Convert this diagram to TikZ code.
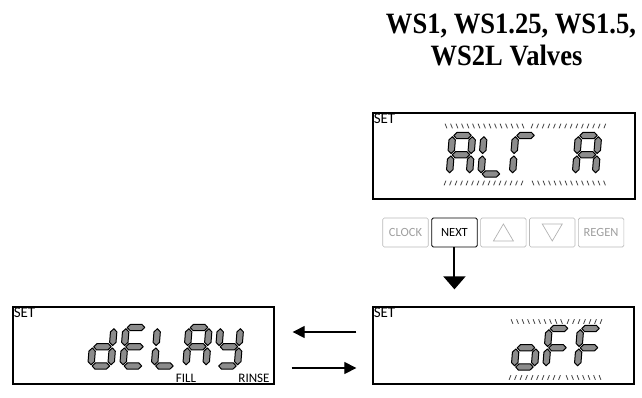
\documentclass[tikz,border=0pt]{standalone}
\usepackage{fontspec}
\setmainfont{Liberation Serif}
\newfontfamily\titlefont[FakeStretch=0.9]{Liberation Serif}
\newfontfamily\lcdfont{Carlito}
\usetikzlibrary{arrows.meta,positioning}

% seven segment digit, local coords (y down)
\def\dw{20}\def\dh{38.5}\def\st{3.2}
\newcommand\hseg[1]{\draw[segm] (1.2,#1) -- ++(\st,-\st) -- (\dw-1.2-\st,#1-\st) -- (\dw-1.2,#1) -- (\dw-1.2-\st,#1+\st) -- (1.2+\st,#1+\st) -- cycle;}
\newcommand\vseg[3]{\draw[segm] (#1,#2) -- ++(\st,\st) -- (#1+\st,#3-\st) -- (#1,#3) -- (#1-\st,#3-\st) -- (#1-\st,#2+\st) -- cycle;}
\newcommand\lcda{\hseg{0}}
\newcommand\lcdg{\hseg{\dh/2}}
\newcommand\lcdd{\hseg{\dh}}
\newcommand\lcdf{\vseg{0}{1.2}{\dh/2-1.2}}
\newcommand\lcde{\vseg{0}{\dh/2+1.2}{\dh-1.2}}
\newcommand\lcdb{\vseg{\dw}{1.2}{\dh/2-1.2}}
\newcommand\lcdc{\vseg{\dw}{\dh/2+1.2}{\dh-1.2}}
\newcommand\digit[3]{\begin{scope}[shift={(#1,#2)},xslant=0.08]
  \foreach \sg in {#3} {\csname lcd\sg\endcsname}
  \end{scope}}
% row of flashing ticks: first, second, last, y, lean
\newcommand\tickrow[5]{\foreach \x in {#1,#2,...,#3} \draw[tick] (\x-#5,#4-2.3) -- (\x+#5,#4+2.3);}

\begin{document}
\begin{tikzpicture}[x=1pt,y=-1pt,node distance=2.75pt,
  lcd/.style={rectangle,draw,line width=1.3pt},
  segm/.style={draw=black,fill=black!45,line width=1pt,line join=round},
  tick/.style={draw=black!75,line width=0.8pt},
  btn/.style={rectangle,draw=gray!55,rounded corners=1.5pt,line width=0.6pt,minimum width=45.5pt,minimum height=29pt,inner sep=0pt,font=\lcdfont\fontsize{12.5}{14}\selectfont,text=gray!75},
  lbl/.style={inner sep=1.2pt,font=\lcdfont\fontsize{15}{16}\selectfont},
  flow/.style={-{Triangle[width=12pt,length=12pt]},line width=1.2pt},
  title/.style={font=\titlefont\bfseries\fontsize{29.5}{32}\selectfont,inner sep=0pt}]
\useasboundingbox (0,0) rectangle (642,397);

\node[title,anchor=base] (ttl1) at (511,33) {WS1, WS1.25, WS1.5,};
\node[title,anchor=base] (ttl2) at (506.5,65) {WS2L Valves};

% displays
\node[lcd,minimum width=262pt,minimum height=86pt] (alt) at (504,156) {};
\node[lcd,minimum width=261pt,minimum height=77pt] (off) at (503.5,345.5) {};
\node[lcd,minimum width=261pt,minimum height=77pt] (delay) at (143.5,345.5) {};
\node[lbl,anchor=north west] (set1) at (alt.north west) {SET};
\node[lbl,anchor=north west] (set2) at (off.north west) {SET};
\node[lbl,anchor=north west] (set3) at (delay.north west) {SET};
\node[lbl,anchor=base,font=\lcdfont\fontsize{13}{14}\selectfont] (fill) at (186,382) {FILL};
\node[lbl,anchor=base,font=\lcdfont\fontsize{13}{14}\selectfont] (rinse) at (254,382) {RINSE};

% ALT A
\digit{452.5}{135.5}{a,b,c,e,f,g}
\digit{484}{135.5}{d,e,f}
\digit{515.5}{135.5}{a,e,f}
\digit{578.5}{135.5}{a,b,c,e,f,g}
\tickrow{446}{451.5}{523}{126}{0.9}
\tickrow{532}{537.6}{605}{126}{-0.9}
\tickrow{445}{450.5}{525}{183}{-0.9}
\tickrow{533}{538.5}{605}{183}{0.9}

% oFF
\digit{517.5}{328.5}{c,d,e,g}
\digit{549}{328.5}{a,e,f,g}
\digit{580.5}{328.5}{a,e,f,g}
\tickrow{512}{517.5}{562}{321.5}{0.9}
\tickrow{568}{573.5}{601}{321.5}{-0.9}
\tickrow{510}{515.5}{560}{377.5}{-0.9}
\tickrow{567}{572.5}{600}{377.5}{0.9}

% dELAY
\digit{94}{327.5}{b,c,d,e,g}
\digit{126}{327.5}{a,d,e,f,g}
\digit{157.5}{327.5}{d,e,f}
\digit{189}{327.5}{a,b,c,e,f,g}
\digit{220.5}{327.5}{b,c,d,f,g}

% buttons
\node[btn] (clock) at (405.5,232.5) {CLOCK};
\node[btn,right=of clock,draw=black,text=black,line width=0.8pt] (next) {NEXT};
\node[btn,right=of next] (up) {};
\node[btn,right=of up] (down) {};
\node[btn,right=of down] (regen) {REGEN};
\draw[gray!60,line width=0.7pt] ([shift={(-10,8.5)}]up.center) -- ([shift={(10,8.5)}]up.center) -- ([shift={(0,-8.5)}]up.center) -- cycle;
\draw[gray!60,line width=0.7pt] ([shift={(-10,-8.5)}]down.center) -- ([shift={(10,-8.5)}]down.center) -- ([shift={(0,8.5)}]down.center) -- cycle;

% connectors
\draw[-{Triangle[width=22pt,length=13pt]},line width=2pt,shorten >=17pt] (next) -- (next |- off.north);
\draw[flow,shorten <=16pt,shorten >=18pt] ([yshift=13.5pt]off.west) -- ([yshift=13.5pt]delay.east);
\draw[flow,shorten <=17pt,shorten >=16pt] ([yshift=-22.5pt]delay.east) -- ([yshift=-22.5pt]off.west);
\end{tikzpicture}
\end{document}
